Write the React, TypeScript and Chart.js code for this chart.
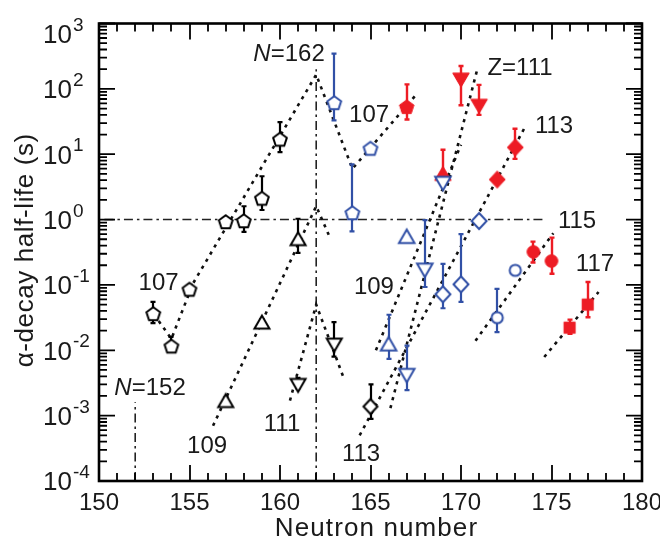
import React, { useEffect, useRef } from 'react';
import { Chart, registerables } from 'chart.js';

Chart.register(...registerables);

const FONT = '"Liberation Sans", Arial, Helvetica, sans-serif';
const BLUE = '#3150a6';
const RED = '#ed1c24';
const BLACK = '#000000';

// ---------------- Axis ticks ----------------
const xTicks = [150, 155, 160, 165, 170, 175, 180];
const yTickExps = [-4, -3, -2, -1, 0, 1, 2, 3];

// ---------------- Data (alpha-decay half-life, s) ----------------
// Z=107, black open pentagons
const z107aN = [153, 154, 155, 157, 158, 159, 160];
const z107aT = [0.036, 0.0115, 0.085, 0.92, 0.95, 2.1, 16.8];
const z107aHi = [0.055, 0.016, 0.1, 0.92, 1.6, 4.6, 31];
const z107aLo = [0.026, 0.0105, 0.08, 0.92, 0.65, 1.4, 10.8];
// Z=109, black open up-triangles
const z109aN = [157, 159, 161];
const z109aT = [0.0017, 0.027, 0.51];
const z109aHi = [0.0019, 0.03, 1.03];
const z109aLo = [0.0015, 0.025, 0.31];
// Z=111, black open down-triangles
const z111aN = [161, 163];
const z111aT = [0.0029, 0.012];
const z111aHi = [0.0038, 0.027];
const z111aLo = [0.0026, 0.008];
// Z=113, black open diamond
const z113aN = [165];
const z113aT = [0.00138];
const z113aHi = [0.003];
const z113aLo = [0.00089];
// Z=107, blue open pentagons
const z107bN = [163, 164, 165];
const z107bT = [61, 1.26, 12.2];
const z107bHi = [347, 7.0, 12.2];
const z107bLo = [33, 0.66, 12.2];
// Z=107, red filled pentagon
const z107cN = [167];
const z107cT = [53];
const z107cHi = [117];
const z107cLo = [34];
// Z=109, blue open up-triangles
const z109bN = [166, 167];
const z109bT = [0.0126, 0.555];
const z109bHi = [0.035, 0.555];
const z109bLo = [0.0074, 0.555];
// Z=109, red filled up-triangle
const z109cN = [169];
const z109cT = [5.1];
const z109cHi = [11.7];
const z109cLo = [3.6];
// Z=111, blue open down-triangles
const z111bN = [167, 168, 169];
const z111bT = [0.0041, 0.167, 3.56];
const z111bHi = [0.0118, 0.98, 3.56];
const z111bLo = [0.00245, 0.093, 3.56];
// Z=111, red filled down-triangles
const z111cN = [170, 171];
const z111cT = [136, 54];
const z111cHi = [224, 115];
const z111cLo = [56, 40];
// Z=113, blue open diamonds
const z113bN = [169, 170, 171];
const z113bT = [0.072, 0.102, 0.95];
const z113bHi = [0.21, 0.6, 0.95];
const z113bLo = [0.044, 0.055, 0.95];
// Z=113, red filled diamonds
const z113cN = [172, 173];
const z113cT = [4.1, 12.7];
const z113cHi = [4.1, 24.5];
const z113cLo = [4.1, 8.5];
// Z=115, blue open circles
const z115bN = [172, 173];
const z115bT = [0.0316, 0.167];
const z115bHi = [0.087, 0.167];
const z115bLo = [0.019, 0.167];
// Z=115, red filled circles
const z115cN = [174, 175];
const z115cT = [0.32, 0.232];
const z115cHi = [0.46, 0.53];
const z115cLo = [0.22, 0.148];
// Z=117, red filled squares
const z117cN = [176, 177];
const z117cT = [0.0222, 0.05];
const z117cHi = [0.0295, 0.111];
const z117cLo = [0.0178, 0.032];

// ---------------- Dotted systematics lines ----------------
const line107N = [153.3, 154.0, 155.2, 162.0, 164.0, 167.5];
const line107T = [0.028, 0.015, 0.106, 165, 6.0, 80];
const line109aN = [156.3, 162.0, 162.8];
const line109aT = [0.0007, 1.6, 0.5];
const line111aN = [160.55, 162.0, 163.5];
const line111aT = [0.0017, 0.05, 0.0039];
const line109bN = [165.3, 170.0];
const line109bT = [0.01, 14];
const line111bN = [166.1, 170.9];
const line111bT = [0.0013, 200];
const line113N = [164.4, 173.5];
const line113T = [0.0005, 25];
const line115N = [170.8, 175.1];
const line115T = [0.014, 0.62];
const line117N = [174.6, 177.6];
const line117T = [0.0079, 0.078];

// ---------------- Dash-dot reference lines ----------------
const refH_N = [150.3, 174.6];
const refH_T = [1, 1];
const ref162N = [162, 162];
const ref162T = [1e-4, 200];
const ref152N = [152, 152];
const ref152T = [1e-4, 0.0016];

// ---------------- Annotations ----------------
const labelTexts = ['N=162', '107', 'N=152', '109', '111', '113', '109', '107', 'Z=111', '113', '115', '117'];
const labelN = [160.5, 153.29, 152.82, 155.97, 160.11, 164.48, 165.19, 164.92, 173.26, 175.14, 176.41, 177.4];
const labelT = [365, 0.1135, 0.0028, 0.000362, 0.000787, 0.000273, 0.0986, 42.5, 223, 28.8, 1.01, 0.222];

type Shape = 'pentagon' | 'triUp' | 'triDown' | 'diamond' | 'circle' | 'square';

function makeMarker(shape: Shape, color: string, filled: boolean, size: number, lw: number) {
  const S = 26;
  const c = document.createElement('canvas');
  c.width = S;
  c.height = S;
  const ctx = c.getContext('2d')!;
  const cx = S / 2;
  const cy = S / 2;
  ctx.beginPath();
  if (shape === 'pentagon') {
    for (let i = 0; i < 5; i++) {
      const a = -Math.PI / 2 + (i * 2 * Math.PI) / 5;
      const px = cx + size * Math.cos(a);
      const py = cy + 0.5 + size * Math.sin(a);
      if (i === 0) ctx.moveTo(px, py);
      else ctx.lineTo(px, py);
    }
  } else if (shape === 'triUp') {
    const w = size;
    const h = size * 0.86;
    ctx.moveTo(cx, cy - h / 2);
    ctx.lineTo(cx + w / 2, cy + h / 2);
    ctx.lineTo(cx - w / 2, cy + h / 2);
  } else if (shape === 'triDown') {
    const w = size;
    const h = size * 0.86;
    ctx.moveTo(cx, cy + h / 2);
    ctx.lineTo(cx + w / 2, cy - h / 2);
    ctx.lineTo(cx - w / 2, cy - h / 2);
  } else if (shape === 'diamond') {
    ctx.moveTo(cx, cy - size * 1.07);
    ctx.lineTo(cx + size, cy);
    ctx.lineTo(cx, cy + size * 1.07);
    ctx.lineTo(cx - size, cy);
  } else if (shape === 'circle') {
    ctx.arc(cx, cy, size, 0, Math.PI * 2);
  } else {
    ctx.rect(cx - size, cy - size, size * 2, size * 2);
  }
  ctx.closePath();
  ctx.fillStyle = filled ? color : '#ffffff';
  ctx.fill();
  ctx.lineWidth = lw;
  ctx.strokeStyle = color;
  ctx.lineJoin = 'miter';
  ctx.stroke();
  return c;
}

type Series = {
  n: number[];
  t: number[];
  hi: number[];
  lo: number[];
  shape: Shape;
  color: string;
  filled: boolean;
  size: number;
};

const series: Series[] = [
  { n: z107aN, t: z107aT, hi: z107aHi, lo: z107aLo, shape: 'pentagon', color: BLACK, filled: false, size: 7.2 },
  { n: z109aN, t: z109aT, hi: z109aHi, lo: z109aLo, shape: 'triUp', color: BLACK, filled: false, size: 15 },
  { n: z111aN, t: z111aT, hi: z111aHi, lo: z111aLo, shape: 'triDown', color: BLACK, filled: false, size: 15 },
  { n: z113aN, t: z113aT, hi: z113aHi, lo: z113aLo, shape: 'diamond', color: BLACK, filled: false, size: 7 },
  { n: z107bN, t: z107bT, hi: z107bHi, lo: z107bLo, shape: 'pentagon', color: BLUE, filled: false, size: 7.2 },
  { n: z107cN, t: z107cT, hi: z107cHi, lo: z107cLo, shape: 'pentagon', color: RED, filled: true, size: 7.6 },
  { n: z109bN, t: z109bT, hi: z109bHi, lo: z109bLo, shape: 'triUp', color: BLUE, filled: false, size: 15.5 },
  { n: z111bN, t: z111bT, hi: z111bHi, lo: z111bLo, shape: 'triDown', color: BLUE, filled: false, size: 15.5 },
  { n: z109cN, t: z109cT, hi: z109cHi, lo: z109cLo, shape: 'triUp', color: RED, filled: true, size: 16.5 },
  { n: z111cN, t: z111cT, hi: z111cHi, lo: z111cLo, shape: 'triDown', color: RED, filled: true, size: 16.5 },
  { n: z113bN, t: z113bT, hi: z113bHi, lo: z113bLo, shape: 'diamond', color: BLUE, filled: false, size: 7.5 },
  { n: z113cN, t: z113cT, hi: z113cHi, lo: z113cLo, shape: 'diamond', color: RED, filled: true, size: 8 },
  { n: z115bN, t: z115bT, hi: z115bHi, lo: z115bLo, shape: 'circle', color: BLUE, filled: false, size: 5.6 },
  { n: z115cN, t: z115cT, hi: z115cHi, lo: z115cLo, shape: 'circle', color: RED, filled: true, size: 6.3 },
  { n: z117cN, t: z117cT, hi: z117cHi, lo: z117cLo, shape: 'square', color: RED, filled: true, size: 5.6 },
];

const trendLines: [number[], number[]][] = [
  [line107N, line107T],
  [line109aN, line109aT],
  [line111aN, line111aT],
  [line109bN, line109bT],
  [line111bN, line111bT],
  [line113N, line113T],
  [line115N, line115T],
  [line117N, line117T],
];

const refLines: [number[], number[]][] = [
  [refH_N, refH_T],
  [ref162N, ref162T],
  [ref152N, ref152T],
];

const toPts = (n: number[], t: number[]) => n.map((x, i) => ({ x, y: t[i] }));

function drawRich(
  ctx: CanvasRenderingContext2D,
  parts: { s: string; it?: boolean }[],
  cx: number,
  cy: number,
  size: number,
  spacing = 0
) {
  (ctx as any).letterSpacing = spacing + 'px';
  let total = 0;
  const widths = parts.map((p) => {
    ctx.font = `${p.it ? 'italic ' : ''}${size}px ${FONT}`;
    const w = ctx.measureText(p.s).width;
    total += w;
    return w;
  });
  let x = cx - total / 2;
  ctx.textAlign = 'left';
  ctx.textBaseline = 'alphabetic';
  parts.forEach((p, i) => {
    ctx.font = `${p.it ? 'italic ' : ''}${size}px ${FONT}`;
    ctx.fillText(p.s, x, cy + size * 0.358);
    x += widths[i];
  });
  (ctx as any).letterSpacing = '0px';
}

export default function App() {
  const ref = useRef<HTMLCanvasElement>(null);

  useEffect(() => {
    const canvas = ref.current!;
    const datasets: any[] = [];
    series.forEach((s, i) => {
      datasets.push({
        type: 'scatter',
        label: 's' + i,
        data: toPts(s.n, s.t),
        pointStyle: makeMarker(s.shape, s.color, s.filled, s.size, s.filled ? 1 : 2),
        pointRadius: 10,
        showLine: false,
        order: 0,
        clip: false,
        seriesIndex: i,
      });
    });
    trendLines.forEach(([n, t], i) => {
      datasets.push({
        type: 'scatter',
        label: 'trend' + i,
        data: toPts(n, t),
        showLine: true,
        borderColor: '#111111',
        borderWidth: 2.6,
        borderDash: [3.2, 5],
        pointRadius: 0,
        order: 2,
      });
    });
    refLines.forEach(([n, t], i) => {
      datasets.push({
        type: 'scatter',
        label: 'ref' + i,
        data: toPts(n, t),
        showLine: true,
        borderColor: '#222222',
        borderWidth: 1.6,
        borderDash: [9, 4, 2.5, 4],
        pointRadius: 0,
        order: 3,
      });
    });

    const errorBarPlugin = {
      id: 'errbars',
      beforeDatasetDraw(chart: any, args: any) {
        const ds = chart.data.datasets[args.index];
        if (ds.seriesIndex === undefined) return;
        const s = series[ds.seriesIndex];
        const ctx = chart.ctx;
        const xs = chart.scales.x;
        const ys = chart.scales.y;
        ctx.save();
        ctx.strokeStyle = s.color;
        ctx.lineWidth = s.color === RED ? 2.4 : 2.2;
        s.n.forEach((n, i) => {
          if (s.hi[i] === s.lo[i]) return;
          const x = Math.round(xs.getPixelForValue(n));
          const yh = ys.getPixelForValue(s.hi[i]);
          const yl = ys.getPixelForValue(s.lo[i]);
          ctx.beginPath();
          ctx.moveTo(x, yh);
          ctx.lineTo(x, yl);
          ctx.moveTo(x - 2.5, yh);
          ctx.lineTo(x + 2.5, yh);
          ctx.moveTo(x - 2.5, yl);
          ctx.lineTo(x + 2.5, yl);
          ctx.stroke();
        });
        ctx.restore();
      },
    };

    const framePlugin = {
      id: 'frame',
      afterDatasetsDraw(chart: any) {
        const ctx = chart.ctx;
        const ca = chart.chartArea;
        const xs = chart.scales.x;
        const ys = chart.scales.y;
        ctx.save();
        ctx.strokeStyle = '#000';
        ctx.lineWidth = 1.8;
        ctx.beginPath();
        for (let v = 150; v <= 180; v++) {
          const x = Math.round(xs.getPixelForValue(v));
          const len = v % 5 === 0 ? 16 : 8;
          ctx.moveTo(x, ca.bottom);
          ctx.lineTo(x, ca.bottom - len);
          ctx.moveTo(x, ca.top);
          ctx.lineTo(x, ca.top + len);
        }
        for (let e = -4; e <= 3; e++) {
          for (let m = 1; m <= 9; m++) {
            if (e === 3 && m > 1) break;
            const v = m * Math.pow(10, e);
            const y = ys.getPixelForValue(v);
            const len = m === 1 ? 16 : 8;
            ctx.moveTo(ca.left, y);
            ctx.lineTo(ca.left + len, y);
            ctx.moveTo(ca.right, y);
            ctx.lineTo(ca.right - len, y);
          }
        }
        ctx.stroke();
        ctx.lineWidth = 2.6;
        ctx.strokeRect(ca.left, ca.top, ca.right - ca.left, ca.bottom - ca.top);
        ctx.restore();
      },
    };

    const textPlugin = {
      id: 'texts',
      afterDraw(chart: any) {
        const ctx = chart.ctx;
        const ca = chart.chartArea;
        const xs = chart.scales.x;
        const ys = chart.scales.y;
        ctx.save();
        ctx.fillStyle = '#1a1a1a';
        xTicks.forEach((v) => {
          drawRich(ctx, [{ s: String(v) }], xs.getPixelForValue(v), ca.bottom + 20, 24);
        });
        yTickExps.forEach((e) => {
          let y = ys.getPixelForValue(Math.pow(10, e));
          if (e === 3) y += 10;
          ctx.textBaseline = 'alphabetic';
          ctx.font = `26px ${FONT}`;
          ctx.textAlign = 'right';
          ctx.fillText('10', ca.left - 27, y + 26 * 0.358);
          ctx.font = `19px ${FONT}`;
          ctx.textAlign = 'left';
          ctx.fillText(String(e), ca.left - 26, y - 3);
        });
        drawRich(ctx, [{ s: 'Neutron number' }], (ca.left + ca.right) / 2 + 6, ca.bottom + 46, 26, 1.1);
        ctx.save();
        ctx.translate(24, (ca.top + ca.bottom) / 2 - 2);
        ctx.rotate(-Math.PI / 2);
        drawRich(ctx, [{ s: 'α-decay half-life (s)' }], 0, 0, 26, 0.6);
        ctx.restore();
        labelTexts.forEach((txt, i) => {
          const x = xs.getPixelForValue(labelN[i]);
          const y = ys.getPixelForValue(labelT[i]);
          const m = txt.match(/^([NZ])(=.*)$/);
          if (m) drawRich(ctx, [{ s: m[1], it: m[1] === 'N' }, { s: m[2] }], x, y, 24);
          else drawRich(ctx, [{ s: txt }], x, y, 24);
        });
        ctx.restore();
      },
    };

    const chart = new Chart(canvas, {
      type: 'scatter',
      data: { datasets },
      options: {
        responsive: false,
        animation: false,
        events: [],
        layout: { padding: { left: 99, top: 23.5, right: 18, bottom: 62 } },
        plugins: { legend: { display: false }, tooltip: { enabled: false } },
        scales: {
          x: { type: 'linear', min: 150, max: 180, display: false },
          y: { type: 'logarithmic', min: 1e-4, max: 1e3, display: false },
        },
      },
      plugins: [errorBarPlugin, framePlugin, textPlugin],
    } as any);
    return () => chart.destroy();
  }, []);

  return (
    <div style={{ position: 'absolute', left: 0, top: 0, width: 660, height: 543, background: '#fff' }}>
      <canvas ref={ref} width={660} height={543} />
    </div>
  );
}
